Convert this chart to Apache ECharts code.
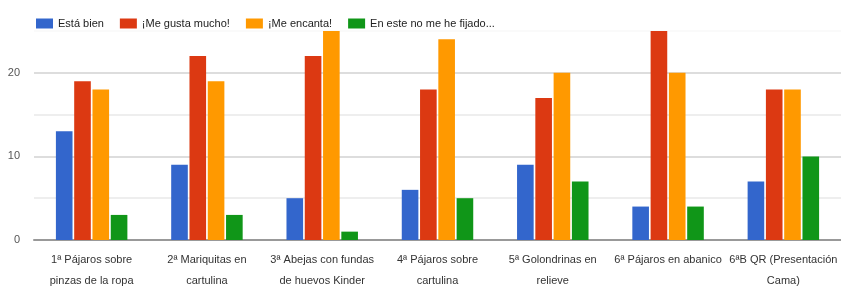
<!DOCTYPE html>
<html><head><meta charset="utf-8">
<script src="https://cdn.jsdelivr.net/npm/echarts@6/dist/echarts.min.js"></script>
<style>html,body{margin:0;padding:0;background:#fff}#c{width:841px;height:291px}</style>
</head><body><div id="c"></div>
<script>
const categories = ["1ª Pájaros sobre\npinzas de la ropa","2ª Mariquitas en\ncartulina","3ª Abejas con fundas\nde huevos Kinder","4ª Pájaros sobre\ncartulina","5ª Golondrinas en\nrelieve","6ª Pájaros en abanico","6ªB QR (Presentación\nCama)"];
const seriesNames = ["Está bien","¡Me gusta mucho!","¡Me encanta!","En este no me he fijado..."];
const estaBien = [13,9,5,6,9,4,7];
const meGusta = [19,22,22,18,17,25,18];
const meEncanta = [18,19,25,24,20,20,18];
const noFijado = [3,3,1,5,7,4,10];
const colors = ["#3366cc","#dc3912","#ff9900","#109618"];
const font = "'Liberation Sans Narrow','Liberation Sans',Arial,sans-serif";
const chart = echarts.init(document.getElementById('c'));
const data = [estaBien, meGusta, meEncanta, noFijado];
chart.setOption({
  animation:false,
  color: colors,
  legend:{left:31,top:13,itemWidth:17,itemHeight:10,itemGap:16,icon:'rect',
    textStyle:{fontFamily:font,fontSize:11,color:'#222'},data:seriesNames},
  grid:{left:34,right:-7,top:31,bottom:48},
  xAxis:{type:'category',data:categories,
    axisLine:{lineStyle:{color:'#999',width:2}},axisTick:{show:false},
    axisLabel:{fontFamily:font,fontSize:11,color:'#333',lineHeight:21,margin:9,interval:0}},
  yAxis:{type:'value',min:0,max:25,interval:5,
    axisLabel:{fontFamily:font,fontSize:11,color:'#555',margin:14,
      formatter:v=>(v%10===0?String(v):'')},
    splitLine:{lineStyle:{color:['#ccc','#eee','#ddd','#eee','#ddd','#fafafa'],width:2}}},
  series: data.map((d,i)=>({name:seriesNames[i],type:'bar',data:d,barGap:'10%',barCategoryGap:'38%'}))
});
</script></body></html>
